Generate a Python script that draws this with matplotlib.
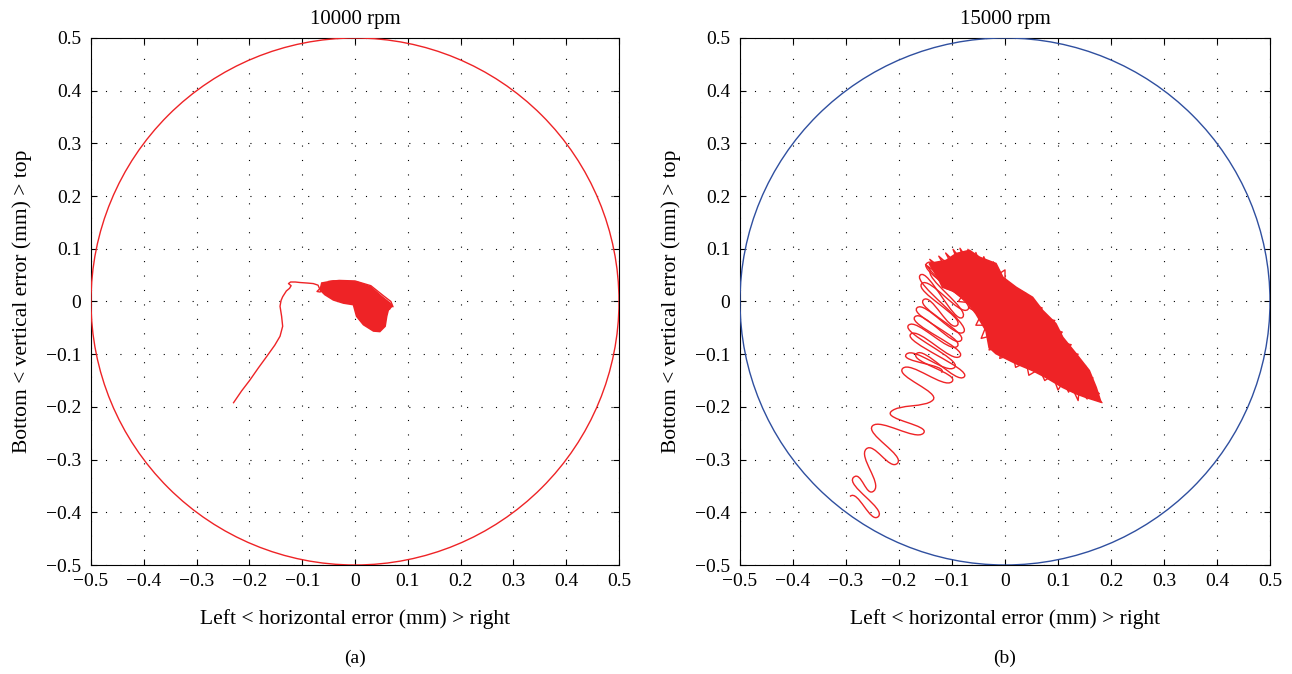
import numpy as np
import matplotlib
matplotlib.use("Agg")
import matplotlib.pyplot as plt
from matplotlib.patches import Circle, PathPatch
from matplotlib.path import Path
from matplotlib.ticker import FuncFormatter, MultipleLocator

plt.rcParams['font.family'] = ['Liberation Serif', 'DejaVu Serif']

red = '#ee2326'
blue = '#2f4f9f'

titles = ['10000 rpm', '15000 rpm']
panel_tags = ['(a)', '(b)']
xlabel = 'Left < horizontal error (mm) > right'
ylabel = 'Bottom < vertical error (mm) > top'
limit_radius = 0.5

# 10000 rpm: run-up path, then the settled orbit
a_path_x = [-0.230, -0.215, -0.199, -0.183, -0.167, -0.152, -0.142, -0.137, -0.139, -0.142,
            -0.140, -0.137, -0.130, -0.124, -0.121, -0.126, -0.122, -0.113, -0.104, -0.090,
            -0.079, -0.070, -0.067, -0.072, -0.066, -0.058, -0.050]
a_path_y = [-0.192, -0.170, -0.149, -0.126, -0.104, -0.083, -0.066, -0.047, -0.028, -0.009,
            0.002, 0.009, 0.020, 0.025, 0.030, 0.034, 0.037, 0.037, 0.036, 0.035,
            0.034, 0.031, 0.024, 0.019, 0.018, 0.027, 0.036]
a_orbit_x = [-0.063, -0.041, 0.003, 0.029, 0.051, 0.066, 0.070, 0.063, 0.060, 0.057,
             0.047, 0.035, 0.016, 0.003, -0.003, -0.022, -0.041, -0.057, -0.066]
a_orbit_y = [0.035, 0.039, 0.037, 0.028, 0.009, -0.003, -0.009, -0.016, -0.028, -0.047,
             -0.057, -0.056, -0.044, -0.028, -0.006, -0.003, 0.003, 0.013, 0.022]
a_fringe_x = [-0.050, -0.030, 0.000, 0.030, 0.055, 0.068, 0.072, 0.064, 0.066, 0.058, 0.045]
a_fringe_y = [0.038, 0.040, 0.039, 0.030, 0.010, 0.000, -0.010, -0.004, -0.014, -0.020, -0.010]

# 15000 rpm whirl during run-up: turning points of the path (left / right extremes)
b_tips_x = [-0.2925, -0.239, -0.286, -0.247, -0.262, -0.203, -0.250, -0.154, -0.215, -0.136,
            -0.193, -0.100, -0.167, -0.077, -0.178, -0.085, -0.170, -0.083, -0.154, -0.090,
            -0.157, -0.070, -0.148, -0.100]
b_tips_y = [-0.370, -0.408, -0.334, -0.359, -0.280, -0.307, -0.236, -0.250, -0.209, -0.187,
            -0.127, -0.152, -0.099, -0.143, -0.062, -0.104, -0.029, -0.074, 0.003, -0.045,
            0.034, -0.015, 0.072, 0.050]
# second pass of whirl loops over the upper part
b_tips2_x = [-0.120, -0.186, -0.095, -0.182, -0.090, -0.166, -0.078, -0.160, -0.080, -0.140]
b_tips2_y = [-0.135, -0.100, -0.125, -0.045, -0.085, -0.012, -0.058, 0.050, -0.030, 0.060]
tip_round = 0.015

b_orbit_x = [-0.124, -0.143, -0.111, -0.092, -0.067, -0.048, -0.017, -0.004, 0.021, 0.052,
             0.071, 0.096, 0.109, 0.134, 0.159, 0.172, 0.181, 0.153, 0.134, 0.109,
             0.077, 0.052, 0.021, -0.017, -0.030, -0.036, -0.055, -0.074, -0.099, -0.118]
b_orbit_y = [0.040, 0.072, 0.078, 0.091, 0.097, 0.084, 0.072, 0.046, 0.027, 0.008,
             -0.017, -0.042, -0.068, -0.099, -0.131, -0.163, -0.191, -0.182, -0.175, -0.163,
             -0.144, -0.131, -0.118, -0.099, -0.087, -0.055, -0.023, 0.002, 0.021, 0.027]
b_fringe_x = [-0.120, -0.150, -0.115, -0.142, -0.105, -0.125, -0.095, -0.112, -0.085, -0.098,
              -0.075, -0.085, -0.065, -0.070, -0.055, -0.055, -0.045, -0.040, -0.030, -0.022,
              -0.015, 0.000, 0.000,
              0.040, 0.040, 0.070, 0.060, 0.094, 0.080, 0.108, 0.095, 0.125, 0.110,
              0.138, 0.125, 0.152, 0.138, 0.166, 0.150, 0.178, 0.160, 0.183, 0.150,
              0.155, 0.140, 0.138, 0.125, 0.120, 0.110, 0.100, 0.090, 0.075, 0.065,
              0.045, 0.040, 0.020, 0.015, -0.010, -0.005, -0.030, -0.025,
              -0.045, -0.035, -0.055, -0.045, -0.068, -0.060, -0.088, -0.080, -0.112]
b_fringe_y = [0.035, 0.070, 0.045, 0.080, 0.052, 0.086, 0.060, 0.092, 0.065, 0.099,
              0.070, 0.101, 0.072, 0.099, 0.068, 0.093, 0.064, 0.085, 0.058, 0.075,
              0.050, 0.060, 0.035,
              0.015, -0.005, -0.012, -0.030, -0.036, -0.050, -0.058, -0.075, -0.082, -0.095,
              -0.100, -0.112, -0.122, -0.132, -0.145, -0.152, -0.175, -0.168, -0.192, -0.170,
              -0.185, -0.165, -0.188, -0.160, -0.172, -0.152, -0.168, -0.140, -0.150, -0.128,
              -0.140, -0.115, -0.125, -0.100, -0.108, -0.085, -0.092, -0.065,
              -0.070, -0.045, -0.045, -0.025, -0.012, -0.003, 0.000, 0.012, 0.025]


def whirl_path(tx, ty, r):
    # smooth cubic through the turning points, tangent running up-right at each one
    verts = [(tx[0], ty[0])]
    codes = [Path.MOVETO]
    for k in range(len(tx) - 1):
        verts += [(tx[k] + r, ty[k] + r), (tx[k + 1] - r, ty[k + 1] - r), (tx[k + 1], ty[k + 1])]
        codes += [Path.CURVE4] * 3
    return Path(verts, codes)


fig = plt.figure(figsize=(12.92, 6.74), dpi=100)
rects = [[91 / 1292, 1 - 565 / 674, 528 / 1292, 527 / 674],
         [740 / 1292, 1 - 565 / 674, 530 / 1292, 527 / 674]]
circle_colors = [red, blue]

fmt = FuncFormatter(lambda v, p: ('%g' % round(v, 2)).replace('-', '\u2212'))

axes = []
for i in range(2):
    ax = fig.add_axes(rects[i])
    ax.set_xlim(-0.5, 0.5)
    ax.set_ylim(-0.5, 0.5)
    ax.add_patch(Circle((0, 0), limit_radius, fill=False, color=circle_colors[i], lw=1.0, zorder=3))
    ax.xaxis.set_major_locator(MultipleLocator(0.1))
    ax.yaxis.set_major_locator(MultipleLocator(0.1))
    ax.xaxis.set_major_formatter(fmt)
    ax.yaxis.set_major_formatter(fmt)
    ax.tick_params(direction='in', top=True, right=True, labelsize=14, length=4, width=0.8)
    ax.tick_params(axis='x', pad=5.5)
    ax.tick_params(axis='y', pad=7)
    ax.grid(True, color='black', linestyle=(0, (1, 12)), linewidth=0.8)
    for s in ax.spines.values():
        s.set_linewidth(0.8)
    ax.set_title(titles[i], fontsize=15, pad=10)
    ax.set_xlabel(xlabel, fontsize=15.5, labelpad=14)
    ax.set_ylabel(ylabel, fontsize=15.5, labelpad=10)
    ax.text(0.5, -0.178, panel_tags[i], transform=ax.transAxes, ha='center', va='center', fontsize=14)
    axes.append(ax)

ax = axes[0]
ax.plot(a_path_x, a_path_y, color=red, lw=1.0, zorder=4)
ax.fill(a_orbit_x, a_orbit_y, color=red, lw=1.2, zorder=4)
ax.plot(a_fringe_x, a_fringe_y, color=red, lw=1.0, zorder=4)

ax = axes[1]
ax.add_patch(PathPatch(whirl_path(b_tips_x, b_tips_y, tip_round), fill=False,
                       edgecolor=red, lw=1.0, zorder=4))
ax.add_patch(PathPatch(whirl_path(b_tips2_x, b_tips2_y, tip_round), fill=False,
                       edgecolor=red, lw=1.0, zorder=4))
ax.fill(b_orbit_x, b_orbit_y, color=red, lw=1.2, zorder=4)
ax.plot(b_fringe_x, b_fringe_y, color=red, lw=1.0, zorder=4)

fig.savefig('out.png', dpi=100)
